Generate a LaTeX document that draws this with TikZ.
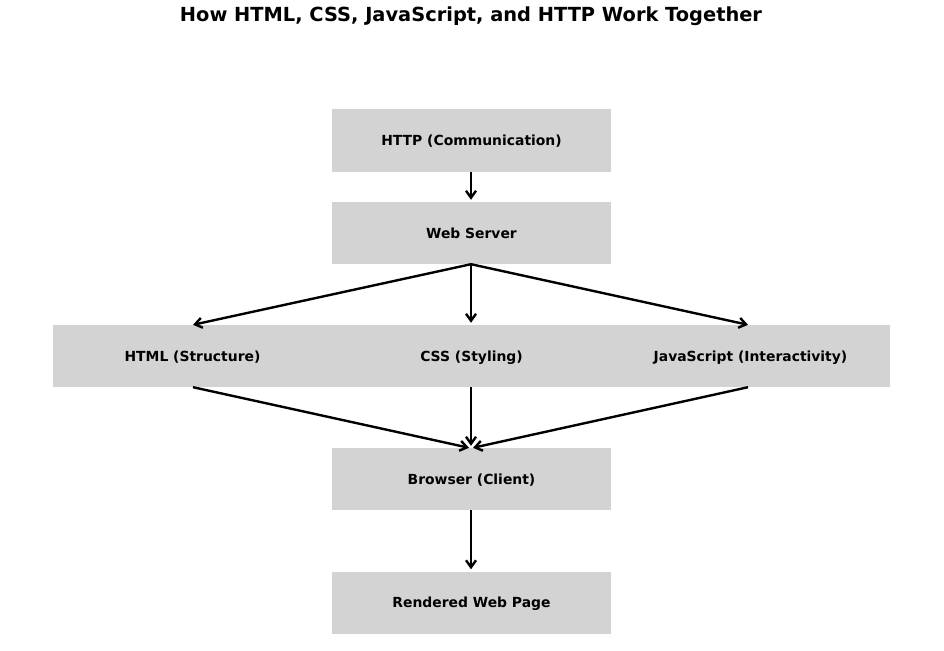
\documentclass[tikz,border=0pt]{standalone}
\usepackage{fontspec}
\setmainfont{DejaVu Sans}
\usetikzlibrary{arrows.meta}
\begin{document}
\begin{tikzpicture}[x=1pt,y=-1pt,
  box/.style={fill={rgb,255:red,211;green,211;blue,211}, draw=none, minimum width=279pt, minimum height=62pt, inner sep=0pt, font=\fontsize{13.9}{16}\selectfont\bfseries, text depth=0pt, text height=10pt},
  arr/.style={line width=2.4pt, -{Straight Barb[length=7pt,width=10pt,line width=2.4pt]}}]
\useasboundingbox (0,0) rectangle (944,650);
\node[font=\fontsize{19.4}{22}\selectfont\bfseries] (title) at (471,16) {How HTML, CSS, JavaScript, and HTTP Work Together};
\node[box] (http) at (471.5,140.5) {HTTP (Communication)};
\node[box] (web) at (471.5,233) {Web Server};
\node[box] (html) at (192.5,356) {HTML (Structure)};
\node[box] (css) at (471.5,356) {CSS (Styling)};
\node[box] (js) at (750.5,356) {JavaScript (Interactivity)};
\node[box] (browser) at (471.5,479) {Browser (Client)};
\node[box] (page) at (471.5,602.5) {Rendered Web Page};
\coordinate (wb) at ([xshift=-0.5pt]web.south);
\draw[arr] ([xshift=-0.5pt]http.south) -- ([xshift=-0.5pt,yshift=2pt]web.north);
\draw[arr] (wb) -- ([xshift=0.5pt]html.north);
\draw[arr] (wb) -- ([xshift=-0.5pt,yshift=2pt]css.north);
\draw[arr] (wb) -- ([xshift=-2.5pt]js.north);
\draw[arr] ([xshift=0.5pt]html.south) -- ([xshift=-2.5pt]browser.north);
\draw[arr] ([xshift=-0.5pt]css.south) -- ([xshift=-0.5pt,yshift=2pt]browser.north);
\draw[arr] ([xshift=-2.5pt]js.south) -- ([xshift=1.5pt]browser.north);
\draw[arr] ([xshift=-0.5pt]browser.south) -- ([xshift=-0.5pt,yshift=2pt]page.north);
\end{tikzpicture}
\end{document}
